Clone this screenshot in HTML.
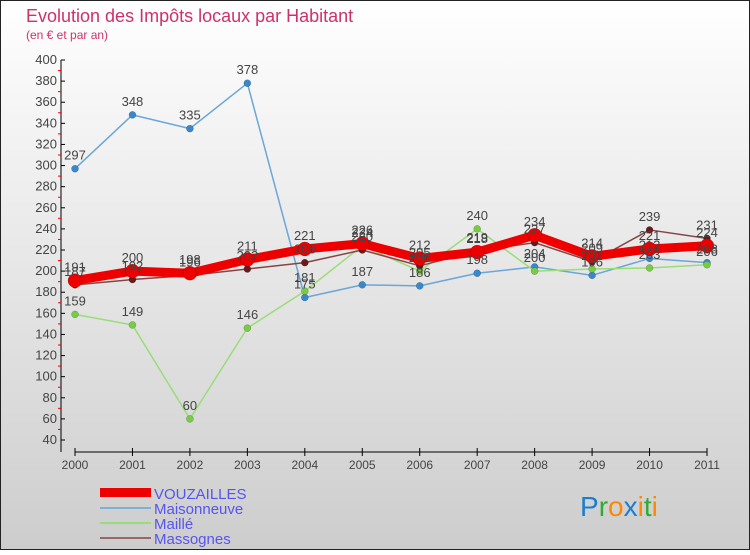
<!DOCTYPE html>
<html><head><meta charset="utf-8"><style>
body{margin:0;width:750px;height:550px;overflow:hidden;font-family:"Liberation Sans",sans-serif}
svg text{font-family:"Liberation Sans",sans-serif}
</style></head><body>
<svg id="c" width="750" height="550">
<defs>
<linearGradient id="bg" x1="0" y1="0" x2="0" y2="1"><stop offset="0" stop-color="#ffffff"/><stop offset="1" stop-color="#cdcdcd"/></linearGradient>
</defs>
<rect x="0.5" y="0.5" width="749" height="549" fill="url(#bg)" stroke="#222"/>
<text x="26" y="22" font-size="18" fill="#d0306a">Evolution des Impôts locaux par Habitant</text>
<text x="26" y="39" font-size="12" fill="#d0306a">(en € et par an)</text>
<g id="axes"></g><g id="series"></g><g id="labels"></g>
<g>
<rect x="100" y="488" width="51" height="9" fill="#e00"/>
<text x="154" y="499" font-size="15" fill="#5555ee">VOUZAILLES</text>
<rect x="100" y="507" width="51" height="2" fill="#7fb0d8"/>
<text x="154" y="514" font-size="15" fill="#5555ee">Maisonneuve</text>
<rect x="100" y="522" width="51" height="2" fill="#99dd77"/>
<text x="154" y="529" font-size="15" fill="#5555ee">Maillé</text>
<rect x="100" y="537" width="51" height="2" fill="#996666"/>
<text x="154" y="544" font-size="15" fill="#5555ee">Massognes</text>
</g>
<g font-size="28">
<text x="580" y="516"><tspan fill="#1a7fd0">P</tspan><tspan fill="#33aa33">r</tspan><tspan fill="#ff8800">o</tspan><tspan fill="#1a7fd0">x</tspan><tspan fill="#ff8800">i</tspan><tspan fill="#33aa33">t</tspan><tspan fill="#ff8800">i</tspan></text>
</g>
</svg>
<script>
const years=["2000","2001","2002","2003","2004","2005","2006","2007","2008","2009","2010","2011"];
const yTicks=[40,60,80,100,120,140,160,180,200,220,240,260,280,300,320,340,360,380,400];
const vouzailles=[191,200,198,211,221,226,212,218,234,214,221,224];
const maisonneuve=[297,348,335,378,175,187,186,198,204,196,212,208];
const maille=[159,149,60,146,181,224,200,240,200,202,203,206];
const massognes=[187,192,196,202,208,220,205,219,227,209,239,231];
const NS="http://www.w3.org/2000/svg";
const x=i=>75+i*(707-75)/(years.length-1);
const y=v=>440-(v-40)*380/360;
function mk(t,a,p){const e=document.createElementNS(NS,t);for(const k in a)e.setAttribute(k,a[k]);p.appendChild(e);return e;}
const ax=document.getElementById('axes'),sg=document.getElementById('series'),lg=document.getElementById('labels');
let l=mk('line',{x1:61,y1:60,x2:61,y2:452,stroke:'#000'},ax);


l=mk('line',{x1:75,y1:452,x2:707,y2:452,stroke:'#000'},ax);


yTicks.forEach((v,i)=>{
 mk('line',{x1:61,y1:y(v),x2:65,y2:y(v),stroke:'#000'},ax);
 if(i<yTicks.length-1)mk('line',{x1:58,y1:y(v+10),x2:61,y2:y(v+10),stroke:'#e00'},ax);
 const t=mk('text',{x:57,y:y(v)+4,'font-size':13,fill:'#444','text-anchor':'end'},ax);t.textContent=v;
 
 
});
years.forEach((yr,i)=>{
 mk('line',{x1:x(i),y1:448,x2:x(i),y2:456,stroke:'#000'},ax);
 const t=mk('text',{x:x(i),y:469,'font-size':12,fill:'#444','text-anchor':'middle'},ax);t.textContent=yr;
 
 
});
function series(name,data,col,w,dot,r){
 const g=mk('g',{},sg);
 
 
 mk('polyline',{points:data.map((v,i)=>x(i)+','+y(v)).join(' '),fill:'none',stroke:col,'stroke-width':w,'stroke-linejoin':'round'},g);
 data.forEach((v,i)=>{
  const c=mk('circle',{cx:x(i),cy:y(v),r:r,fill:dot,stroke:'rgba(0,0,0,0.3)','stroke-width':0.5},g);
  
  
  const t=mk('text',{x:x(i),y:y(v)-9,'font-size':13,fill:'#444','text-anchor':'middle'},lg);t.textContent=v;
 });
}
series('maisonneuve',maisonneuve,'#6aa6d8',1.5,'#3a88cc',3.5);
series('maille',maille,'#99dd77',1.5,'#77cc44',3.5);
series('massognes',massognes,'#884444',1.5,'#6a1a1a',3.5);
series('vouzailles',vouzailles,'#ee0000',9,'#ee0000',7);
</script>
</body></html>
